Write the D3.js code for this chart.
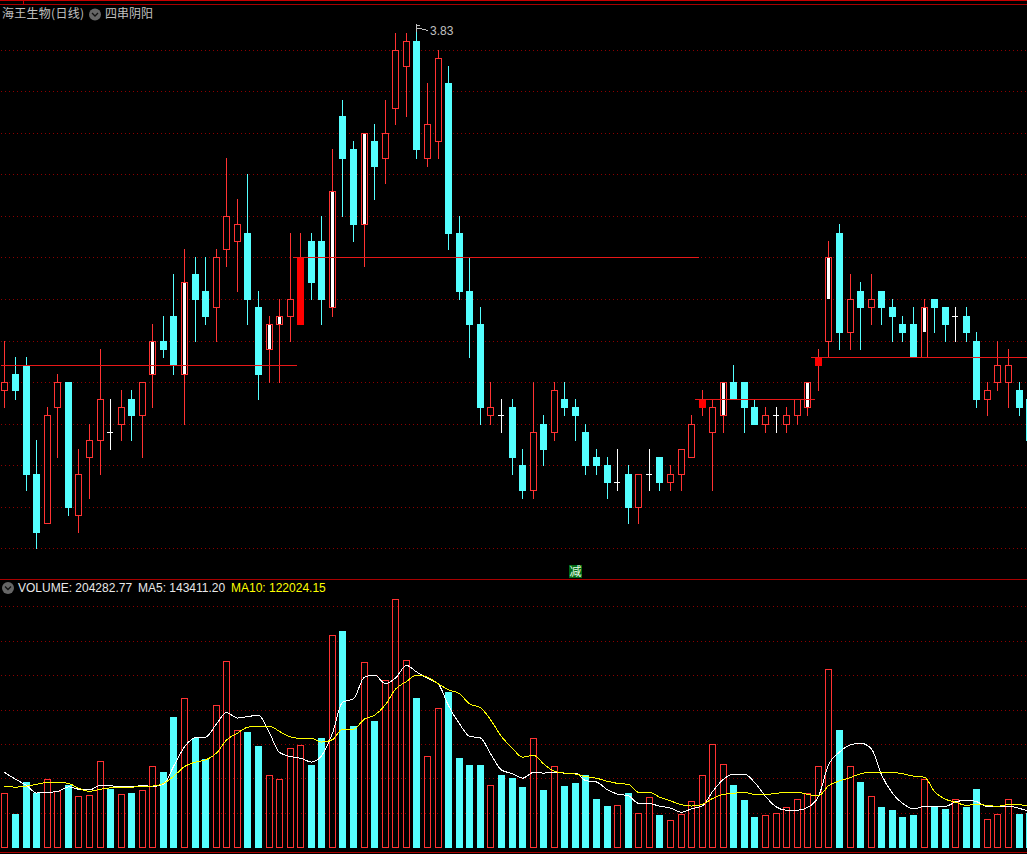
<!DOCTYPE html>
<html><head><meta charset="utf-8">
<style>html,body{margin:0;padding:0;background:#000;overflow:hidden}svg{display:block}</style>
<script src="https://cdn.jsdelivr.net/npm/d3@7"></script>
</head><body><svg id="c" width="1027" height="854"></svg>
<script>
const opens=[3.39,3.41,3.42,3.29,3.23,3.37,3.40,3.24,3.31,3.33,3.34,3.35,3.38,3.36,3.41,3.45,3.48,3.41,3.53,3.51,3.49,3.56,3.57,3.58,3.49,3.44,3.47,3.48,3.47,3.57,3.57,3.49,3.72,3.68,3.59,3.69,3.67,3.73,3.78,3.81,3.67,3.69,3.76,3.58,3.51,3.47,3.36,3.36,3.37,3.30,3.27,3.35,3.34,3.38,3.37,3.34,3.31,3.30,3.28,3.29,3.25,3.29,3.31,3.28,3.29,3.31,3.37,3.34,3.36,3.40,3.40,3.37,3.35,3.36,3.35,3.36,3.37,3.42,3.45,3.58,3.46,3.51,3.49,3.51,3.49,3.47,3.47,3.43,3.50,3.49,3.48,3.48,3.45,3.38,3.40,3.40,3.39,3.38];
const closes=[3.40,3.39,3.29,3.22,3.36,3.40,3.25,3.29,3.33,3.38,3.34,3.37,3.36,3.40,3.45,3.44,3.42,3.52,3.50,3.48,3.55,3.60,3.59,3.50,3.41,3.47,3.48,3.50,3.55,3.52,3.50,3.63,3.67,3.59,3.70,3.66,3.70,3.80,3.81,3.68,3.71,3.79,3.58,3.51,3.47,3.37,3.37,3.36,3.31,3.27,3.34,3.32,3.39,3.37,3.36,3.30,3.30,3.28,3.28,3.25,3.29,3.29,3.28,3.29,3.32,3.35,3.38,3.37,3.40,3.38,3.37,3.35,3.36,3.36,3.36,3.38,3.40,3.43,3.55,3.46,3.50,3.49,3.50,3.49,3.48,3.46,3.43,3.49,3.49,3.47,3.48,3.46,3.38,3.39,3.42,3.42,3.37,3.33];
const highs=[3.45,3.43,3.43,3.33,3.37,3.41,3.40,3.32,3.35,3.44,3.38,3.39,3.39,3.40,3.47,3.48,3.53,3.56,3.55,3.55,3.56,3.67,3.62,3.65,3.51,3.48,3.50,3.58,3.58,3.58,3.60,3.68,3.74,3.69,3.70,3.71,3.74,3.82,3.82,3.83,3.76,3.80,3.78,3.60,3.55,3.49,3.40,3.38,3.38,3.32,3.40,3.36,3.40,3.40,3.38,3.35,3.32,3.31,3.32,3.30,3.29,3.32,3.31,3.30,3.32,3.36,3.39,3.38,3.40,3.42,3.40,3.38,3.37,3.37,3.37,3.38,3.40,3.44,3.57,3.59,3.53,3.52,3.53,3.51,3.50,3.48,3.49,3.50,3.50,3.49,3.49,3.49,3.46,3.40,3.45,3.44,3.40,3.38];
const lows=[3.37,3.38,3.27,3.20,3.23,3.31,3.24,3.22,3.26,3.29,3.32,3.33,3.33,3.31,3.37,3.43,3.41,3.35,3.45,3.47,3.45,3.54,3.51,3.47,3.38,3.40,3.40,3.45,3.47,3.50,3.47,3.48,3.60,3.57,3.54,3.62,3.64,3.71,3.72,3.67,3.66,3.67,3.56,3.50,3.43,3.35,3.35,3.34,3.29,3.26,3.26,3.30,3.33,3.36,3.33,3.29,3.29,3.26,3.27,3.23,3.23,3.27,3.27,3.27,3.27,3.31,3.36,3.27,3.34,3.38,3.34,3.35,3.34,3.34,3.34,3.35,3.36,3.39,3.43,3.44,3.44,3.44,3.47,3.47,3.45,3.45,3.43,3.43,3.46,3.45,3.45,3.45,3.37,3.36,3.39,3.37,3.36,3.33];
const volumes=[158,98,191,158,199,164,182,150,152,251,172,155,159,167,237,220,381,435,318,258,415,543,342,337,296,211,199,289,298,241,319,619,631,354,540,369,487,723,546,436,266,406,453,261,241,241,182,212,203,177,318,168,237,180,188,212,142,121,123,159,100,147,95,80,97,135,211,301,243,183,139,89,94,100,117,141,158,237,519,343,237,191,150,118,110,89,95,200,119,113,141,118,171,83,97,141,98,101];
const volumeUp=[1,0,0,0,1,1,0,1,1,1,0,1,0,1,1,0,0,1,0,0,1,1,1,0,0,1,1,1,1,0,0,1,0,0,1,0,1,1,1,0,1,1,0,0,0,0,1,0,0,0,1,0,1,0,0,0,0,0,1,0,1,1,0,1,1,1,1,1,1,0,0,0,1,1,1,1,1,1,1,0,1,0,1,0,0,0,0,1,0,0,1,0,0,1,1,1,0,0];
const ma5=[219,199,181,159,161,163,177,170,168,181,180,177,177,181,178,184,236,293,320,321,360,393,377,381,385,333,277,265,260,249,267,333,423,433,496,502,477,493,530,511,492,475,413,360,324,319,273,226,215,202,219,217,219,217,217,195,191,168,156,151,129,128,121,115,103,113,122,163,199,214,214,190,149,118,109,109,117,149,241,278,299,304,287,212,158,129,113,120,120,120,133,138,134,119,121,121,114,106];
const ma10=[179,176,179,184,190,190,187,173,164,170,174,176,176,179,179,187,207,236,249,255,275,313,333,350,353,353,338,322,318,318,307,314,345,345,374,385,416,461,483,502,496,476,459,448,418,407,372,323,289,263,269,244,222,217,214,207,202,193,187,184,161,161,147,136,125,121,126,143,155,158,161,155,155,158,161,161,155,151,180,194,204,215,219,219,219,215,208,205,163,141,132,123,126,123,120,126,125,120];
const highlightBars=[14,17,25,26,31,34,68,76,78,87];
const highlightTop=[3.45,3.52,3.47,3.48,3.63,3.70,3.40,3.40,3.55,3.49];
const highlightBottom=[3.41,3.41,3.44,3.47,3.49,3.59,3.36,3.37,3.50,3.46];
const solidBars=[28,66,77];
const levelPrices=[3.421,3.55,3.38,3.43];
const levelFrom=[0,28,66,77];
const levelTo=[28,66,77,98];
const priceGrid=[3.80,3.75,3.70,3.65,3.60,3.55,3.50,3.45,3.40,3.35,3.30,3.25,3.20];
const volumeGrid=[100,200,300,400,500,600,700];
const titleName="海王生物(日线)";
const titleIndicator="四串阴阳";
const maxLabel="3.83";
const legendVolume="VOLUME: 204282.77";
const legendMa5="MA5: 143411.20";
const legendMa10="MA10: 122024.15";
const signalLabel="减";

const RED="#ff3232",CYAN="#54ffff",GRID="#8c0000",BORDER="#a80000";
const svg=d3.select("#c");
svg.append("rect").attr("width",1027).attr("height",854).attr("fill","#000");
const idx=opens.map((_,i)=>i);
const xs=d3.scaleLinear().domain([0,97]).range([4.95,4.95+10.564*97]);
const X=i=>Math.floor(xs(i));
const yp=d3.scaleLinear().domain([3.20,3.80]).range([548.8,50.2]);
const Y=p=>Math.floor(yp(p));
const yv=d3.scaleLinear().domain([0,800]).range([847.7,572.5]);

// frame
const hl=(yy,x1,x2,c)=>svg.append("rect").attr("x",x1).attr("y",yy).attr("width",x2-x1).attr("height",1).attr("fill",c).attr("shape-rendering","crispEdges");
hl(0,0,1027,"#c80000");hl(4,0,1027,BORDER);hl(579,0,1027,BORDER);hl(852,0,1027,BORDER);
svg.append("rect").attr("x",23).attr("y",0).attr("width",1).attr("height",4).attr("fill","#c80000");

// grids
const dotted=(g,vals,fn)=>g.selectAll("line").data(vals).join("line")
  .attr("x1",1).attr("x2",1027).attr("y1",d=>fn(d)+.5).attr("y2",d=>fn(d)+.5)
  .attr("stroke",GRID).attr("stroke-dasharray","1,3").attr("shape-rendering","crispEdges");
dotted(svg.append("g"),priceGrid,Y);
dotted(svg.append("g"),volumeGrid,v=>Math.floor(yv(v)));

// candles
const gc=svg.append("g").attr("shape-rendering","crispEdges");
const colorOf=i=>closes[i]>opens[i]?RED:closes[i]<opens[i]?CYAN:"#fff";
gc.selectAll("line.w").data(idx).join("line").attr("class","w")
  .attr("x1",i=>X(i)+.5).attr("x2",i=>X(i)+.5)
  .attr("y1",i=>Y(highs[i])).attr("y2",i=>Y(lows[i])+1)
  .attr("stroke",colorOf);
gc.selectAll("rect.b").data(idx.filter(i=>closes[i]!==opens[i])).join("rect").attr("class","b")
  .each(function(i){
    const top=Y(Math.max(opens[i],closes[i])),bot=Y(Math.min(opens[i],closes[i]));
    const s=d3.select(this);
    if(closes[i]>opens[i]&&!solidBars.includes(i)){
      s.attr("x",X(i)-2.5).attr("y",top+.5).attr("width",6).attr("height",bot-top).attr("fill","#000").attr("stroke",RED);
    }else{
      s.attr("x",X(i)-3).attr("y",top).attr("width",7).attr("height",bot-top+1).attr("fill",closes[i]>opens[i]?"#ff0000":CYAN);
    }
  });
gc.selectAll("line.d").data(idx.filter(i=>closes[i]===opens[i])).join("line").attr("class","d")
  .attr("x1",i=>X(i)-3).attr("x2",i=>X(i)+3).attr("y1",i=>Y(opens[i])+.5).attr("y2",i=>Y(opens[i])+.5).attr("stroke","#fff");
gc.selectAll("rect.h").data(highlightBars).join("rect").attr("class","h")
  .attr("x",i=>X(i)-1).attr("width",3)
  .attr("y",(i,k)=>Y(highlightTop[k])+1)
  .attr("height",(i,k)=>Y(highlightBottom[k])-Y(highlightTop[k])-1)
  .attr("fill","#fff");

// level lines
svg.append("g").attr("shape-rendering","crispEdges").selectAll("line").data(levelPrices).join("line")
  .attr("x1",(d,k)=>Math.max(1,X(levelFrom[k])-7)).attr("x2",(d,k)=>X(levelTo[k])-3)
  .attr("y1",d=>Y(d)+.5).attr("y2",d=>Y(d)+.5).attr("stroke","#e81818");

// max marker
const imax=d3.maxIndex(highs);
const fx=X(imax);
svg.append("path").attr("d",`M${fx+.5},${Y(highs[imax])-1}V32M${fx+.5},25.5H${fx+4}M${fx+.5},28.5H${fx+4}L${fx+8},29.5L${fx+12},30.5`)
  .attr("stroke","#c0c0c0").attr("fill","none").attr("shape-rendering","crispEdges");
const T=(s,x,y,c,f,sz)=>svg.append("text").attr("x",x).attr("y",y).attr("fill",c).attr("font-family",f).attr("font-size",sz).text(s);
T(maxLabel,fx+14,35,"#c0c0c0","Liberation Sans",12);

// volume bars
const gv=svg.append("g").attr("shape-rendering","crispEdges");
gv.selectAll("rect").data(idx).join("rect").each(function(i){
  const top=Math.round(yv(volumes[i])),base=847;
  const s=d3.select(this);
  if(volumeUp[i]) s.attr("x",X(i)-2.5).attr("y",top+.5).attr("width",6).attr("height",base-top).attr("fill","none").attr("stroke",RED);
  else s.attr("x",X(i)-3).attr("y",top).attr("width",7).attr("height",base-top+1).attr("fill",CYAN);
});
const ln=d3.line().x((d,i)=>X(i)+.5).y(d=>yv(d)).curve(d3.curveMonotoneX);
svg.append("path").attr("d",ln(ma5)).attr("fill","none").attr("stroke","#fff").attr("shape-rendering","crispEdges");
svg.append("path").attr("d",ln(ma10)).attr("fill","none").attr("stroke","#ffff00").attr("shape-rendering","crispEdges");

// titles
const CJK="'Noto Sans CJK SC'";
T(titleName,2,18,"#c0c0c0",CJK,12).attr("textLength",82).attr("lengthAdjust","spacing");
const icon=(cx,cy)=>{svg.append("circle").attr("cx",cx).attr("cy",cy).attr("r",6).attr("fill","#666");
 svg.append("path").attr("d",`M${cx-3},${cy-1.5}L${cx},${cy+1.5}L${cx+3},${cy-1.5}`).attr("fill","none").attr("stroke","#111").attr("stroke-width",1.3);};
icon(95,14.5);
T(titleIndicator,105,18,"#c0c0c0",CJK,12);
icon(8,588);
T(legendVolume,18,592,"#e8e8e8","Liberation Sans",12);
T(legendMa5,138,592,"#e8e8e8","Liberation Sans",12);
T(legendMa10,231,592,"#ffff00","Liberation Sans",12);
svg.append("rect").attr("x",569).attr("y",565).attr("width",13).attr("height",13).attr("fill","#006a14");
T(signalLabel,569.5,576,"#e8ffe8",CJK,12);
</script></body></html>
